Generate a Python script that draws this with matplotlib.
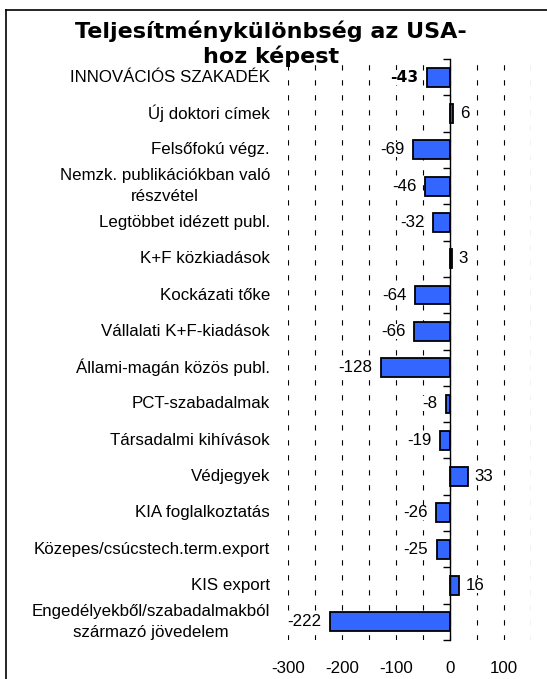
import matplotlib
matplotlib.use('Agg')
import matplotlib.pyplot as plt
from matplotlib.lines import Line2D
from matplotlib.ticker import MultipleLocator
import numpy as np

plt.rcParams['font.family'] = ['Liberation Sans', 'DejaVu Sans']
plt.rcParams['lines.scale_dashes'] = False

TITLE = 'Teljesítménykülönbség az USA-\nhoz képest'

CATEGORIES = [
    'INNOVÁCIÓS SZAKADÉK',
    'Új doktori címek',
    'Felsőfokú végz.',
    'Nemzk. publikációkban való\nrészvétel',
    'Legtöbbet idézett publ.',
    'K+F közkiadások',
    'Kockázati tőke',
    'Vállalati K+F-kiadások',
    'Állami-magán közös publ.',
    'PCT-szabadalmak',
    'Társadalmi kihívások',
    'Védjegyek',
    'KIA foglalkoztatás',
    'Közepes/csúcstech.term.export',
    'KIS export',
    'Engedélyekből/szabadalmakból\nszármazó jövedelem',
]

GAP_VALUES = [-43, 6, -69, -46, -32, 3, -64, -66, -128, -8, -19, 33, -26, -25, 16, -222]

X_TICKS = [-300, -200, -100, 0, 100]

W, H = 547, 679
FS = 12.2
fig = plt.figure(figsize=(W / 100, H / 100), dpi=100)

# axes box in pixels: x -300..150 -> 288..531, y 59..640
ax = fig.add_axes([288 / W, 1 - 640 / H, (531 - 288) / W, (640 - 59) / H])

y = np.arange(len(CATEGORIES))
ax.barh(y, GAP_VALUES, height=0.52, color='#3366ff', edgecolor='black',
        linewidth=1.3, zorder=3)

ax.set_xlim(-300, 150)
ax.set_ylim(len(CATEGORIES) - 0.5, -0.5)

# dashed vertical grid every 50
ax.xaxis.set_minor_locator(MultipleLocator(50))
ax.set_xticks(X_TICKS)
ax.set_xticklabels([str(v) for v in X_TICKS], fontsize=FS)
ax.grid(which='both', axis='x', color='black', linewidth=0.8,
        linestyle=(0, (3.8, 7.0)), zorder=1)
ax.tick_params(axis='x', which='both', length=0, pad=15)

# vertical axis at zero with ticks between categories
for s in ['top', 'right', 'bottom']:
    ax.spines[s].set_visible(False)
ax.spines['left'].set_position(('data', 0))
ax.spines['left'].set_linewidth(1.0)
ax.spines['left'].set_zorder(4)
ax.set_yticks(np.arange(-0.5, len(CATEGORIES), 1.0))
ax.set_yticklabels([])
ax.tick_params(axis='y', length=5, width=1.0, direction='out')

# category names on the left
for i, name in enumerate(CATEGORIES):
    ax.text(-0.074, i, name, transform=ax.get_yaxis_transform(),
            ha='right', va='center', fontsize=FS, multialignment='center',
            linespacing=1.55)

# value labels
for i, v in enumerate(GAP_VALUES):
    weight = 'bold' if i == 0 else 'normal'
    family = 'DejaVu Sans' if i == 0 else None
    if v < 0:
        off, ha = -6, 'right'
    else:
        off, ha = 5, 'left'
    ax.annotate(str(v), (v, i), xytext=(off, 0), textcoords='offset points',
                ha=ha, va='center', fontsize=FS if i else FS - 1,
                fontweight=weight, family=family,
                bbox=dict(facecolor='white', edgecolor='none', pad=0),
                zorder=2)

fig.text(271 / W, 1 - 44 / H, TITLE, ha='center', va='center',
         fontsize=16, fontweight='bold', family='DejaVu Sans',
         linespacing=1.2, zorder=6)

# outer frame (left and top edges)
fig.add_artist(Line2D([6 / W, 6 / W], [0, 1 - 10 / H], color='black', linewidth=1.2))
fig.add_artist(Line2D([6 / W, 1], [1 - 10 / H, 1 - 10 / H], color='black', linewidth=1.2))

fig.savefig('out.png', dpi=100)
